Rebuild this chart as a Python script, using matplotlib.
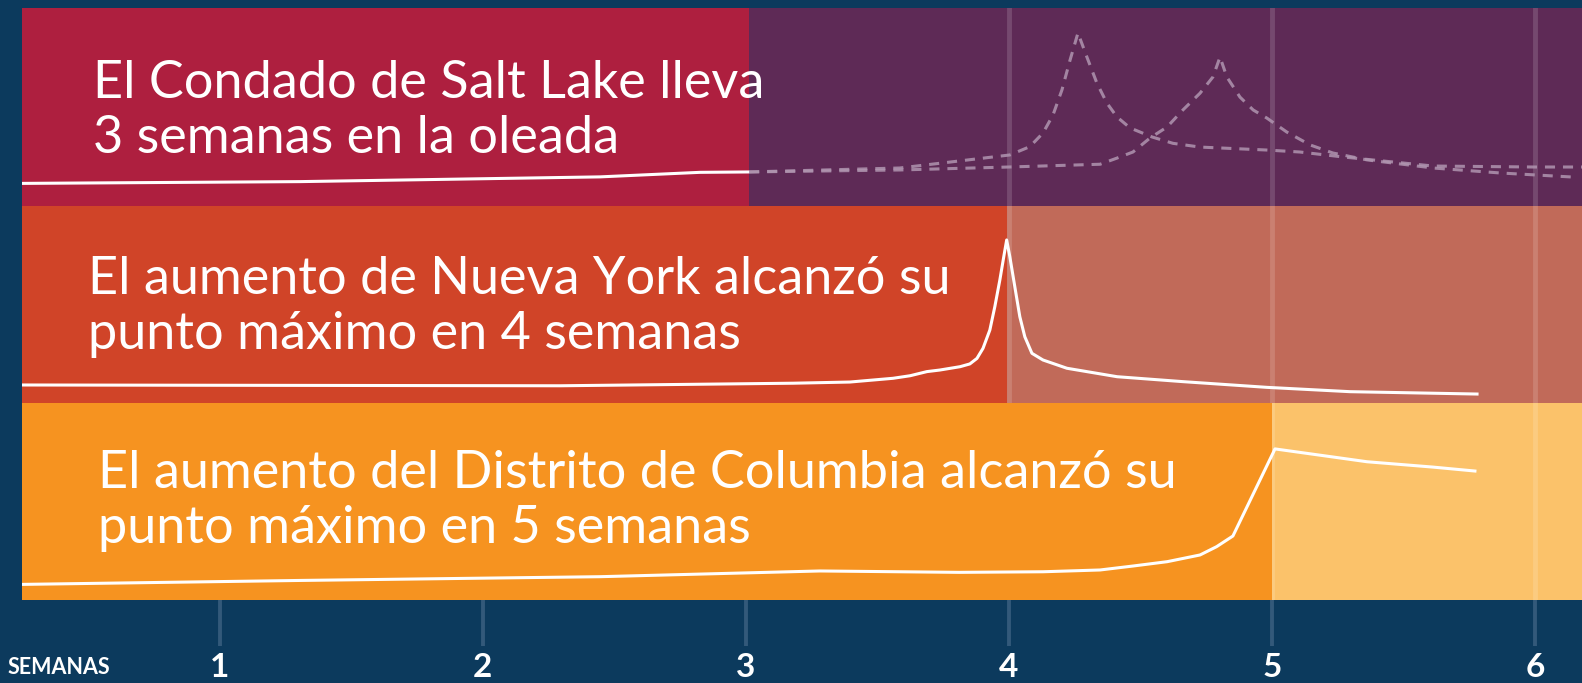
import matplotlib
matplotlib.use('Agg')
import matplotlib.pyplot as plt

plt.rcParams['font.family'] = ['Lato', 'DejaVu Sans']

# x in weeks, y in relative level within each band (0-100)
slc_wk = [0.249, 1.306, 1.686, 2.446, 2.826, 3.013]
slc_val = [11.3, 12.2, 13.0, 14.6, 16.9, 17.1]

proj_a_wk = [3.013, 3.586, 4.004, 4.080, 4.130, 4.168, 4.202, 4.233, 4.263, 4.297,
             4.335, 4.373, 4.411, 4.461, 4.545, 4.624, 4.727, 4.981, 5.107, 5.270,
             5.613, 5.993, 6.179]
proj_a_val = [17.1, 19.1, 25.7, 29.9, 36.8, 45.9, 58.6, 73.8, 87.5, 75.3,
              62.1, 52.0, 45.0, 39.4, 34.8, 31.6, 29.7, 28.2, 27.2, 24.7,
              20.1, 19.6, 19.6]

proj_b_wk = [3.013, 3.586, 4.0, 4.347, 4.411, 4.472, 4.537, 4.602, 4.662, 4.727,
             4.776, 4.803, 4.829, 4.879, 4.929, 4.981, 5.057, 5.145, 5.232, 5.362,
             5.613, 5.866, 6.145]
proj_b_val = [17.1, 18.1, 19.6, 21.0, 24.1, 27.2, 34.3, 39.9, 48.5, 57.0,
              65.2, 75.3, 65.2, 55.0, 48.5, 44.4, 37.3, 30.8, 26.7, 23.2,
              19.1, 16.6, 14.5]

ny_wk = [0.249, 2.294, 3.180, 3.396, 3.560, 3.625, 3.689, 3.738, 3.815, 3.852,
         3.879, 3.902, 3.928, 3.947, 3.966, 3.981, 3.992, 4.004, 4.023, 4.042,
         4.061, 4.088, 4.130, 4.221, 4.412, 4.662, 4.981, 5.297, 5.780]
ny_val = [8.9, 8.5, 9.8, 10.4, 12.3, 13.6, 15.7, 16.5, 18.2, 19.6,
          22.4, 27.5, 36.8, 48.7, 62.2, 74.1, 82.6, 74.1, 58.8, 43.6,
          33.4, 25.0, 21.6, 17.4, 13.1, 10.6, 7.7, 5.5, 4.3]

dc_wk = [0.249, 1.306, 2.446, 3.282, 3.811, 4.130, 4.347, 4.472, 4.602, 4.727,
         4.790, 4.852, 5.012, 5.362, 5.612, 5.772]
dc_val = [7.9, 9.9, 11.8, 14.7, 14.0, 14.3, 15.2, 17.2, 19.4, 22.8,
          27.0, 32.4, 76.5, 70.0, 67.3, 65.3]

peak_wk = [3.013, 3.992, 5.0]     # end of the "past" section of each band
weeks = [1, 2, 3, 4, 5, 6]

labels = ['El Condado de Salt Lake lleva\n3 semanas en la oleada',
          'El aumento de Nueva York alcanzó su\npunto máximo en 4 semanas',
          'El aumento del Distrito de Columbia alcanzó su\npunto máximo en 5 semanas']

navy = '#0C3A5D'
past_col = ['#AE1F3F', '#D04428', '#F69320']
future_col = ['#5E2A56', '#C16A59', '#FBC26A']

fig = plt.figure(figsize=(15.82, 6.83), dpi=100, facecolor=navy)

W, H = 1582., 683.
left = 22/W
tops = [8.3, 205.7, 402.5]
bots = [205.7, 402.5, 600.0]
txt_x = [0.0455, 0.042, 0.0485]
txt_y = [0.268, 0.270, 0.290]   # baseline of the second line

axs = []
for i in range(3):
    ax = fig.add_axes([left, 1-bots[i]/H, 1-left, (bots[i]-tops[i])/H])
    ax.set_xlim(0.249, 6.179)
    ax.set_ylim(0, 100)
    ax.axvspan(0, 7, color=future_col[i], zorder=0, lw=0)
    for w in weeks:
        ax.axvline(w, color='white', alpha=0.15, lw=3.5, zorder=1)
    ax.axvspan(0, peak_wk[i], color=past_col[i], zorder=2, lw=0)
    ax.text(txt_x[i], txt_y[i], labels[i], transform=ax.transAxes, color='white',
            fontsize=37.6, va='baseline', ha='left', linespacing=1.21, zorder=5)
    for s in ax.spines.values():
        s.set_visible(False)
    ax.set_yticks([])
    ax.set_xticks([])
    axs.append(ax)

axs[0].plot(slc_wk, slc_val, color='white', lw=2.2, zorder=4, solid_capstyle='butt')
axs[0].plot(proj_a_wk, proj_a_val, color='#B095B0', lw=2.2, alpha=0.85,
            dashes=(3.3, 2.6), zorder=3)
axs[0].plot(proj_b_wk, proj_b_val, color='#B095B0', lw=2.2, alpha=0.85,
            dashes=(3.3, 2.6), zorder=3)
axs[1].plot(ny_wk, ny_val, color='white', lw=2.2, zorder=4, solid_joinstyle='round')
axs[2].plot(dc_wk, dc_val, color='white', lw=2.2, zorder=4, solid_joinstyle='round')

# week axis below the bottom band
ax = axs[2]
ax.set_xticks(weeks)
ax.set_xticklabels([str(w) for w in weeks])
ax.tick_params(axis='x', direction='out', length=33, width=2.8, color='#33597A',
               pad=5, labelsize=24, labelcolor='white')
for lab in ax.get_xticklabels():
    lab.set_fontweight('bold')
    lab.set_va('top')
fig.text(8/W, 1-667/H, 'SEMANAS', color='white', fontsize=15.5, fontweight='bold',
         va='center', ha='left')

plt.savefig('out.png', dpi=100, facecolor=navy)
